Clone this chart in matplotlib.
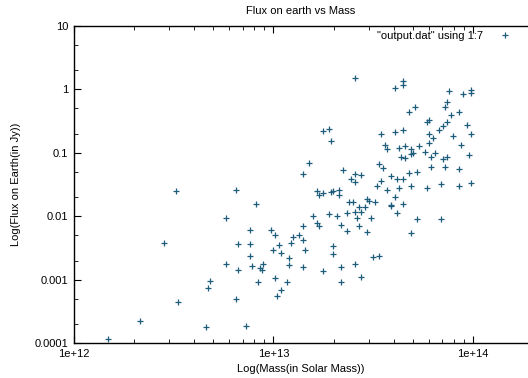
import numpy as np
import matplotlib
matplotlib.use("Agg")
import matplotlib.pyplot as plt
from matplotlib.ticker import LogLocator, NullFormatter

# log10 of mass (solar masses) and log10 of flux (Jy)
log_mass = [
    13.41, 13.65, 13.65, 13.61, 13.88, 13.95, 13.99, 13.99, 13.87, 13.86,
    13.71, 13.68, 13.93, 13.89, 13.78, 13.77, 13.87, 13.85, 13.83, 13.97,
    13.25, 13.28, 13.29, 13.54, 13.61, 13.65, 13.78, 13.80, 13.90, 13.99,
    13.56, 13.57, 13.63, 13.66, 13.69, 13.73, 13.78, 13.94, 13.70, 13.69,
    13.76, 13.81, 13.79, 13.64, 13.66, 13.85, 13.87, 13.98, 13.18, 13.15,
    13.35, 13.53, 13.55, 13.79, 13.86, 13.93, 13.41, 13.44, 13.39, 13.59,
    13.68, 13.72, 13.62, 13.65, 13.41, 13.52, 13.54, 13.57, 13.63, 13.69,
    13.77, 13.84, 13.93, 13.99, 13.22, 13.23, 13.25, 13.29, 13.30, 13.33,
    13.33, 13.38, 13.40, 13.47, 13.48, 13.51, 13.61, 13.59, 13.59, 13.65,
    13.43, 13.46, 13.41, 13.44, 13.37, 13.32, 13.28, 13.20, 13.42, 13.49,
    13.62, 13.72, 13.84, 13.22, 13.23, 13.34, 13.43, 13.37, 13.47, 13.69,
    13.15, 13.10, 13.13, 13.09, 13.15, 13.30, 13.30, 13.03, 13.16, 13.04,
    13.08, 13.08, 13.15, 13.25, 13.34, 13.41, 13.50, 13.53, 13.44, 13.34,
    13.07, 13.04, 12.51, 12.81, 12.91, 12.76, 12.45, 12.88, 12.99, 13.01,
    12.82, 12.88, 13.00, 12.88, 12.76, 12.89, 12.95, 12.93, 12.94, 12.82,
    13.01, 12.92, 12.68, 12.67, 12.81, 13.02, 12.52, 12.33, 12.66, 12.86,
    12.17,
]
log_flux = [
    0.18, 0.14, 0.07, 0.02, -0.03, -0.08, -0.01, -0.06, -0.20, -0.27,
    -0.27, -0.36, -0.36, -0.41, -0.48, -0.52, -0.52, -0.57, -0.64, -0.56,
    -0.65, -0.62, -0.82, -0.70, -0.67, -0.64, -0.70, -0.76, -0.73, -0.70,
    -0.87, -0.94, -0.92, -0.90, -0.94, -0.90, -0.85, -0.87, -1.01, -1.02,
    -0.99, -1.00, -1.06, -1.07, -1.08, -1.10, -1.06, -1.03, -1.16, -1.33,
    -1.27, -1.17, -1.24, -1.22, -1.22, -1.25, -1.34, -1.35, -1.41, -1.37,
    -1.32, -1.31, -1.42, -1.41, -1.46, -1.53, -1.44, -1.58, -1.56, -1.53,
    -1.56, -1.49, -1.52, -1.48, -1.60, -1.67, -1.64, -1.62, -1.60, -1.59,
    -1.67, -1.77, -1.78, -1.73, -1.76, -1.77, -1.70, -1.83, -1.84, -1.81,
    -1.86, -1.85, -1.94, -1.93, -1.95, -1.99, -1.97, -1.99, -2.03, -2.03,
    -1.95, -2.04, -2.04, -2.10, -2.16, -2.14, -2.15, -2.24, -2.25, -2.27,
    -2.16, -2.33, -2.29, -2.43, -2.38, -2.47, -2.59, -2.46, -2.54, -2.58,
    -2.66, -2.77, -2.80, -2.87, -2.80, -2.76, -2.65, -2.62, -2.96, -3.03,
    -3.03, -3.17, -1.60, -1.58, -1.81, -2.03, -2.42, -2.22, -2.22, -2.30,
    -2.44, -2.44, -2.54, -2.62, -2.76, -2.78, -2.75, -2.81, -2.85, -2.85,
    -2.97, -3.04, -3.02, -3.14, -3.30, -3.26, -3.36, -3.65, -3.74, -3.73,
    -3.94,
]

mass = 10 ** np.array(log_mass)
flux = 10 ** np.array(log_flux)

plt.rcParams["font.family"] = ["Liberation Sans", "DejaVu Sans"]
plt.rcParams["font.size"] = 8

W, H = 528, 378
fig = plt.figure(figsize=(W / 100, H / 100), dpi=100)
ax = fig.add_axes([74 / W, 1 - 343 / H, 1 - 74 / W, (343 - 26) / H])

ax.plot(mass, flux, linestyle="none", marker="+", color="#1d5c7a",
        markersize=4.3, markeredgewidth=0.9, label='"output.dat" using 1:7')

ax.set_xscale("log")
ax.set_yscale("log")
ax.set_xlim(1e12, 10 ** 14.276)
ax.set_ylim(1e-4, 10)

ax.xaxis.set_minor_locator(LogLocator(base=10, subs=np.arange(2, 10), numticks=20))
ax.yaxis.set_minor_locator(LogLocator(base=10, subs=[2, 5], numticks=20))
ax.xaxis.set_minor_formatter(NullFormatter())
ax.yaxis.set_minor_formatter(NullFormatter())

ax.set_xticks([1e12, 1e13, 1e14])
ax.set_xticklabels(["1e+12", "1e+13", "1e+14"])
ax.set_yticks([1e-4, 1e-3, 1e-2, 1e-1, 1, 10])
ax.set_yticklabels(["0.0001", "0.001", "0.01", "0.1", "1", "10"])

ax.tick_params(which="both", direction="in", top=True, right=False, color="black")
ax.tick_params(which="major", length=5, width=0.8, pad=4)
ax.tick_params(which="minor", length=3, width=0.6)
ax.spines["right"].set_visible(False)
for s in ["left", "bottom", "top"]:
    ax.spines[s].set_linewidth(1.0)

ax.set_title("Flux on earth vs Mass", fontsize=8, pad=9, x=(301 - 74) / (W - 74))
ax.set_xlabel("Log(Mass(in Solar Mass))", fontsize=8, labelpad=4)
ax.set_ylabel("Log(Flux on Earth(in Jy))", fontsize=8, labelpad=10)

ax.legend(loc="center right", bbox_to_anchor=(516 / W, 1 - 36 / H),
          bbox_transform=fig.transFigure, frameon=False, markerfirst=False,
          borderpad=0, borderaxespad=0, handlelength=2, handletextpad=1,
          fontsize=8)

fig.savefig("out.png", dpi=100)
